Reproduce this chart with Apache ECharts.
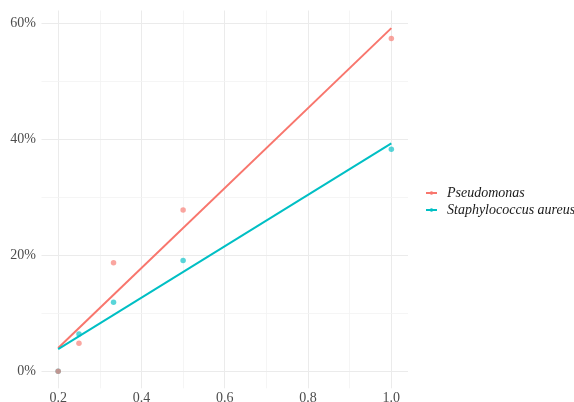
<!DOCTYPE html>
<html>
<head>
<meta charset="utf-8">
<script src="https://cdn.jsdelivr.net/npm/echarts@6/dist/echarts.min.js"></script>
<style>
html,body{margin:0;padding:0;background:#fff;}
#chart{width:574px;height:402px;}
</style>
</head>
<body>
<div id="chart"></div>
<script>
// Data
const xPseudo = [0.2, 0.25, 0.333, 0.5, 1.0];
const yPseudo = [0, 4.8, 18.7, 27.8, 57.4];
const xStaph = [0.2, 0.25, 0.333, 0.5, 1.0];
const yStaph = [0, 6.4, 11.9, 19.1, 38.3];
// fitted trend lines (endpoints)
const fitX = [0.2, 1.0];
const fitPseudo = [4.0, 59.2];
const fitStaph = [3.8, 39.3];
// ticks
const xTicks = [0.2, 0.4, 0.6, 0.8, 1.0];
const xMinor = [0.3, 0.5, 0.7, 0.9];
const yTicks = [0, 20, 40, 60];
const yMinor = [10, 30, 50];
const names = ['Pseudomonas', 'Staphylococcus aureus'];

const RED = '#F8766D', BLUE = '#00BFC4';
const zip = (a, b) => a.map((v, i) => [v, b[i]]);

const gridLines = [];
xTicks.forEach(v => gridLines.push({xAxis: v, lineStyle: {color: '#EBEBEB', width: 1, type: 'solid'}}));
xMinor.forEach(v => gridLines.push({xAxis: v, lineStyle: {color: '#F3F3F3', width: 0.8, type: 'solid'}}));
yTicks.forEach(v => gridLines.push({yAxis: v, lineStyle: {color: '#EBEBEB', width: 1, type: 'solid'}}));
yMinor.forEach(v => gridLines.push({yAxis: v, lineStyle: {color: '#F3F3F3', width: 0.8, type: 'solid'}}));

const legendIcon = 'path://M0,6L4.3,6L4.3,8L0,8Z M7.7,6L12,6L12,8L7.7,8Z M4,7A2,2 0 1,1 8,7A2,2 0 1,1 4,7Z';

const chart = echarts.init(document.getElementById('chart'), null, {renderer: 'canvas'});
chart.setOption({
  animation: false,
  backgroundColor: '#fff',
  grid: {left: 41.5, right: 166, top: 10.5, bottom: 13.7, containLabel: false, outerBoundsMode: 'none'},
  xAxis: {
    type: 'value', min: 0.16, max: 1.04,
    axisLine: {show: false}, axisTick: {show: false}, splitLine: {show: false},
    axisLabel: {
      customValues: xTicks, margin: 3,
      formatter: v => v.toFixed(1),
      fontFamily: 'Liberation Serif', fontSize: 14, color: '#4D4D4D'
    }
  },
  yAxis: {
    type: 'value', min: -2.96, max: 62.24,
    axisLine: {show: false}, axisTick: {show: false}, splitLine: {show: false},
    axisLabel: {
      customValues: yTicks, margin: 5.5,
      formatter: v => v + '%',
      fontFamily: 'Liberation Serif', fontSize: 14, color: '#4D4D4D'
    }
  },
  legend: {
    data: names.map(n => ({name: n, icon: legendIcon})),
    orient: 'vertical', left: 426, top: 186, padding: 0,
    itemWidth: 11, itemHeight: 4, itemGap: 3,
    textStyle: {fontFamily: 'Liberation Serif', fontStyle: 'italic', fontSize: 14, color: '#1a1a1a', padding: [0, 0, 0, 5]}
  },
  series: [
    {
      name: 'grid', type: 'line', data: [], silent: true, z: 0,
      markLine: {silent: true, z: 0, symbol: 'none', label: {show: false}, data: gridLines, animation: false}
    },
    {
      name: 'pts-staph', type: 'scatter', data: zip(xStaph, yStaph), symbolSize: 5.5,
      itemStyle: {color: BLUE, opacity: 0.65, borderWidth: 0}, z: 2
    },
    {
      name: 'pts-pseudo', type: 'scatter', data: zip(xPseudo, yPseudo), symbolSize: 5.5,
      itemStyle: {color: RED, opacity: 0.65, borderWidth: 0}, z: 2
    },
    {
      name: names[0], type: 'line', data: zip(fitX, fitPseudo), showSymbol: false,
      symbol: 'circle', symbolSize: 5,
      lineStyle: {color: RED, width: 2}, itemStyle: {color: RED}, z: 10
    },
    {
      name: names[1], type: 'line', data: zip(fitX, fitStaph), showSymbol: false,
      symbol: 'circle', symbolSize: 5,
      lineStyle: {color: BLUE, width: 2}, itemStyle: {color: BLUE}, z: 10
    }
  ]
});
</script>
</body>
</html>
